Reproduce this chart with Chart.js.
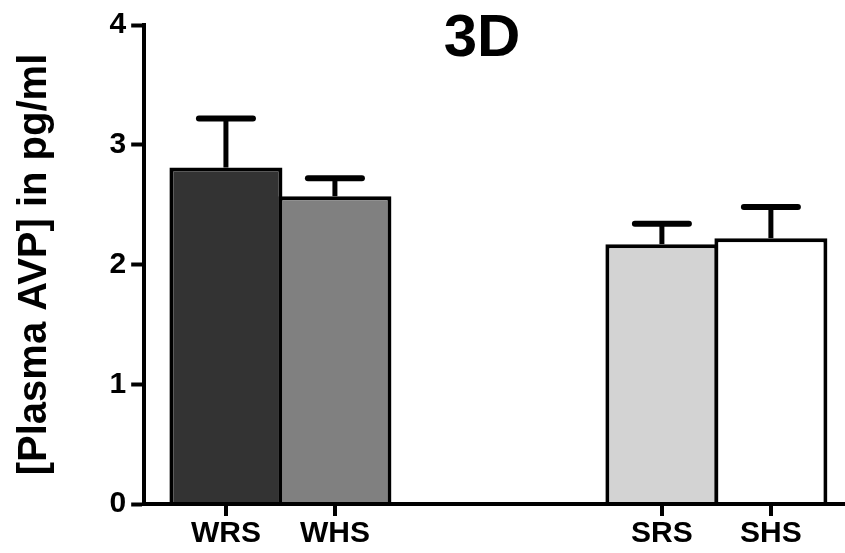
<!DOCTYPE html>
<html>
<head>
<meta charset="utf-8">
<title>Plasma AVP 3D</title>
<script src="https://cdn.jsdelivr.net/npm/chart.js@4.4.1/dist/chart.umd.min.js"></script>
<style>
  html, body { margin: 0; padding: 0; background: #ffffff; }
  #wrap { width: 845px; height: 553px; position: relative; }
</style>
</head>
<body>
<div id="wrap"><canvas id="avpChart"></canvas></div>
<script>
// Slots along the x axis; empty strings leave the gap between the W and S groups
const slots = ['WRS', 'WHS', '', '', 'SRS', 'SHS'];
// Groups and their plasma AVP (pg/ml): mean and SEM
const groups = ['WRS', 'WHS', 'SRS', 'SHS'];
const avpMean = [2.81, 2.57, 2.17, 2.22];
const avpSem = [0.41, 0.15, 0.17, 0.26];
const yTicks = [0, 1, 2, 3, 4];
const barFills = ['#333333', '#808080', '#d3d3d3', '#ffffff'];

const FONT = '"Liberation Sans", Arial, Helvetica, sans-serif';
const X_TICK_LEN = 12;
const slotOf = g => slots.indexOf(g) + 1;

// Upward SEM whiskers with a cap
const errorBars = {
  id: 'errorBars',
  afterDatasetsDraw(chart) {
    const ctx = chart.ctx;
    const yScale = chart.scales.y;
    const meta = chart.getDatasetMeta(0);
    ctx.save();
    ctx.strokeStyle = '#000000';
    meta.data.forEach((bar, i) => {
      const tip = yScale.getPixelForValue(avpMean[i] + avpSem[i]);
      ctx.lineWidth = 5;
      ctx.lineCap = 'butt';
      ctx.beginPath();
      ctx.moveTo(bar.x, bar.y);
      ctx.lineTo(bar.x, tip);
      ctx.stroke();
      ctx.lineWidth = 6;
      ctx.lineCap = 'round';
      ctx.beginPath();
      ctx.moveTo(bar.x - 27, tip);
      ctx.lineTo(bar.x + 27, tip);
      ctx.stroke();
    });
    ctx.restore();
  }
};

// Category tick marks under the x axis, placed by the x scale
const xTickMarks = {
  id: 'xTickMarks',
  afterDraw(chart) {
    const ctx = chart.ctx;
    const xScale = chart.scales.x;
    const base = chart.chartArea.bottom;
    ctx.save();
    ctx.strokeStyle = '#000000';
    ctx.lineWidth = 4;
    ctx.lineCap = 'butt';
    xScale.ticks.forEach(t => {
      const px = Math.round(xScale.getPixelForValue(t.value));
      ctx.beginPath();
      ctx.moveTo(px, base);
      ctx.lineTo(px, base + X_TICK_LEN);
      ctx.stroke();
    });
    ctx.restore();
  }
};

// Panel heading drawn inside the plot region
const panelHeading = {
  id: 'panelHeading',
  afterDraw(chart) {
    const ctx = chart.ctx;
    ctx.save();
    ctx.font = 'bold 60px ' + FONT;
    ctx.fillStyle = '#000000';
    ctx.textAlign = 'center';
    ctx.textBaseline = 'alphabetic';
    ctx.fillText('3D', 482, 56);
    ctx.restore();
  }
};

const chart = new Chart(document.getElementById('avpChart'), {
  type: 'bar',
  data: {
    datasets: [{
      data: groups.map((g, i) => ({ x: slotOf(g), y: avpMean[i] })),
      backgroundColor: barFills,
      borderColor: '#000000',
      borderWidth: { top: 4, left: 4, right: 4, bottom: 0 },
      borderSkipped: 'start',
      categoryPercentage: 1,
      barPercentage: 1.037
    }]
  },
  options: {
    responsive: true,
    maintainAspectRatio: false,
    animation: false,
    devicePixelRatio: 1,
    layout: { padding: { top: 25, left: 0, right: 0, bottom: 1 } },
    plugins: {
      legend: { display: false },
      tooltip: { enabled: false },
      title: { display: false }
    },
    scales: {
      x: {
        type: 'linear',
        offset: false,
        min: 0.25,
        max: 6.68,
        afterBuildTicks: scale => {
          scale.ticks = groups.map(g => ({ value: slotOf(g) }));
        },
        ticks: {
          autoSkip: false,
          maxRotation: 0,
          padding: 0,
          color: '#000000',
          font: { family: FONT, size: 30, weight: 'bold' },
          callback: value => slots[value - 1]
        },
        grid: {
          offset: false,
          drawOnChartArea: false,
          drawTicks: true,
          tickLength: X_TICK_LEN,
          tickWidth: 4,
          tickColor: 'rgba(0,0,0,0)'
        },
        border: { display: true, color: '#000000', width: 4, z: 1 }
      },
      y: {
        type: 'linear',
        min: 0,
        max: 4,
        afterBuildTicks: scale => {
          scale.ticks = yTicks.map(v => ({ value: v }));
        },
        ticks: {
          padding: 5,
          color: '#000000',
          font: { family: FONT, size: 30, weight: 'bold' }
        },
        grid: {
          drawOnChartArea: false,
          drawTicks: true,
          tickLength: 13,
          tickWidth: 4,
          tickColor: '#000000'
        },
        border: { display: true, color: '#000000', width: 4, z: 1 },
        title: {
          display: true,
          text: '[Plasma AVP] in pg/ml',
          color: '#000000',
          font: { family: FONT, size: 40, weight: 'bold' },
          padding: { top: 11, bottom: 45.5 }
        }
      }
    }
  },
  plugins: [errorBars, xTickMarks, panelHeading]
});

// Redraw once the system fonts are ready so text metrics are final
document.fonts.ready.then(() => setTimeout(() => chart.update('none'), 30));
</script>
</body>
</html>
